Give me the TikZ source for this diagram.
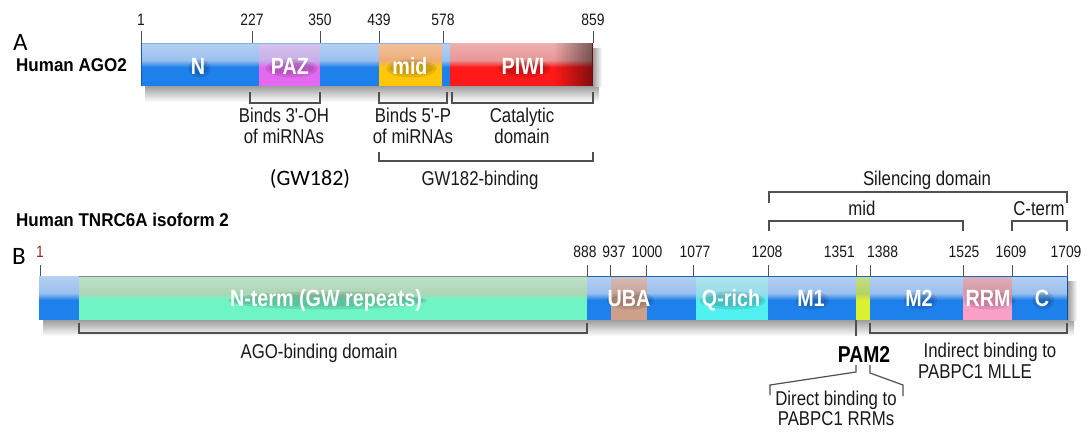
\documentclass[tikz,border=0pt]{standalone}
\usepackage{fontspec}
\setmainfont{Liberation Sans}
\newfontfamily\nar{Liberation Sans}[FakeStretch=0.84]
\newfontfamily\ttl{Liberation Sans}[FakeStretch=0.92]
\newfontfamily\calfont{Carlito}
\definecolor{bluB}{RGB}{30,128,235}
\definecolor{bluT}{RGB}{155,192,238}
\definecolor{grnB}{RGB}{110,245,195}
\definecolor{grnT}{RGB}{172,214,182}
\definecolor{pazB}{RGB}{228,105,240}
\definecolor{pazT}{RGB}{200,175,232}
\definecolor{midB}{RGB}{255,198,10}
\definecolor{midT}{RGB}{238,172,120}
\definecolor{piwB}{RGB}{255,25,25}
\definecolor{piwT}{RGB}{232,150,150}
\definecolor{ubaB}{RGB}{205,160,140}
\definecolor{ubaT}{RGB}{200,165,155}
\definecolor{qriB}{RGB}{80,240,240}
\definecolor{qriT}{RGB}{150,220,232}
\definecolor{pamB}{RGB}{220,240,50}
\definecolor{pamT}{RGB}{180,210,100}
\definecolor{rrmB}{RGB}{250,160,200}
\definecolor{rrmT}{RGB}{212,150,162}
\definecolor{lin}{RGB}{80,80,80}
\definecolor{txt}{RGB}{25,25,25}
\definecolor{one}{RGB}{140,50,30}
\tikzset{
  brk/.style={draw=lin,line width=1.2pt},
  num/.style={anchor=base,inner sep=0pt,text=txt,font=\nar\fontsize{16.5}{18}\selectfont},
  lab/.style={anchor=base,inner sep=0pt,text=txt,font=\nar\fontsize{20}{22}\selectfont},
  ttlab/.style={anchor=base west,inner sep=0pt,text=black,font=\ttl\bfseries\fontsize{18.5}{20}\selectfont},
  letter/.style={anchor=base west,inner sep=0pt,text depth=0pt,text=black,font=\calfont\fontsize{25}{27}\selectfont},
  barlab/.style={anchor=base,inner sep=0pt,text=white,font=\nar\bfseries\fontsize{23.5}{25}\selectfont},
  tick/.style={draw=lin,line width=1pt}
}
% segment: x0 x1 y0 y1 bottomcolor topcolor
\newcommand\seg[6]{%
  \fill[#5] (#1,#3) rectangle (#2,#4);
  \shade[top color=#6!75!white, bottom color=#6] (#1,#3) rectangle (#2,#3+17);
  \shade[top color=#6, bottom color=#5] (#1,#3+17) rectangle (#2,#3+24);
}
% soft dark halo under a bar label (no duplicate text)
\newcommand\blab[5]{%
  \fill[black,opacity=0.10] (#2+1.5,#3+2) ellipse ({#5/2+4} and 9);
  \fill[black,opacity=0.10] (#2+1.5,#3+2) ellipse ({#5/2+1} and 6);
  \node[barlab] (#1) at (#2,#3+7.5) {#4};
}
\newcommand\shad[4]{%
  \shade[top color=black!38, bottom color=white] (#1+4,#4) rectangle (#2+6,#4+16);
  \shade[left color=black!38, right color=white] (#2,#3+5) rectangle (#2+9,#4);
}
\begin{document}
\begin{tikzpicture}[x=1pt,y=-1pt]
\useasboundingbox (0,0) rectangle (1091,432);
\fill[white] (0,0) rectangle (1091,432);

% ================= A : AGO2 =================
\node[letter] (A) at (13,50) {A};
\node[ttlab] (tA) at (16,71.5) {Human AGO2};

\shad{141}{593}{43}{86}
\seg{141}{259}{43}{86}{bluB}{bluT}
\seg{259}{320}{43}{86}{pazB}{pazT}
\seg{320}{379}{43}{86}{bluB}{bluT}
\seg{379}{442}{43}{86}{midB}{midT}
\seg{442}{450}{43}{86}{bluB}{bluT}
\seg{450}{593}{43}{86}{piwB}{piwT}
\foreach \i in {0,...,19}{
  \fill[black,opacity=0.025*\i] ({553+2*\i},43) rectangle ({555+2*\i},86);
}
\draw[bluT!80!bluB,line width=0.8pt] (141,43.4) -- (450,43.4);
\draw[bluB!70!black,line width=1pt] (141.5,43) -- (141.5,86);
\draw[piwB!45!black,line width=1pt] (592.5,43) -- (592.5,86);

\blab{lN}{198}{66.5}{N}{14}
\blab{lPAZ}{290}{66.5}{PAZ}{44}
\blab{lmid}{410}{66.5}{mid}{42}
\blab{lPIWI}{523}{66.5}{PIWI}{44}

\foreach \x/\t [count=\i] in {141/1,252/227,320/350,379/439,443/578,593/859}{
  \coordinate (ta\i) at (\x,31);
  \draw[tick] (ta\i) -- (\x,43);
  \node[num] (na\i) at (\x,25) {\t};
}

\draw[brk] (250,92) -- (250,103) -- (320,103) -- (320,92);
\draw[brk] (379,92) -- (379,103) -- (447,103) -- (447,92);
\draw[brk] (452,92) -- (452,103) -- (593,103) -- (593,92);
\node[lab] (b1a) at (284,122) {Binds 3'-OH};
\node[lab] (b1b) at (284,143) {of miRNAs};
\node[lab] (b2a) at (413,122) {Binds 5'-P};
\node[lab] (b2b) at (413,143) {of miRNAs};
\node[lab] (b3a) at (522,122) {Catalytic};
\node[lab] (b3b) at (522,143) {domain};
\draw[brk] (379,152) -- (379,161) -- (593,161) -- (593,152);
\node[lab] (gwb) at (480,185) {GW182-binding};
\node[anchor=base,inner sep=0pt,font=\calfont\fontsize{22}{24}\selectfont] (gw) at (310,185) {(GW182)};

% ================= B : TNRC6A =================
\node[ttlab] (tB) at (16,226) {Human TNRC6A isoform 2};
\node[letter] (B) at (12,264) {B};

\shad{39}{1068}{276}{320}
\seg{39}{79}{276}{320}{bluB}{bluT}
\seg{79}{587}{276}{320}{grnB}{grnT}
\seg{587}{611}{276}{320}{bluB}{bluT}
\seg{611}{647}{276}{320}{ubaB}{ubaT}
\seg{647}{696}{276}{320}{bluB}{bluT}
\seg{696}{768}{276}{320}{qriB}{qriT}
\seg{768}{856}{276}{320}{bluB}{bluT}
\seg{856}{870}{276}{320}{pamB}{pamT}
\seg{870}{963}{276}{320}{bluB}{bluT}
\seg{963}{1012}{276}{320}{rrmB}{rrmT}
\seg{1012}{1068}{276}{320}{bluB}{bluT}
\draw[bluB!60!black,line width=1.2pt] (1067.5,276) -- (1067.5,320);
\draw[grnT!70!black,line width=0.6pt] (79,276.3) -- (587,276.3);
\draw[bluB!80!black,line width=0.6pt] (587,276.3) -- (1068,276.3);

\blab{lNt}{326}{298.5}{N-term (GW repeats)}{190}
\blab{lUBA}{629}{298.5}{UBA}{40}
\blab{lQ}{731}{298.5}{Q-rich}{58}
\blab{lM1}{811}{298.5}{M1}{26}
\blab{lM2}{919}{298.5}{M2}{26}
\blab{lRRM}{988}{298.5}{RRM}{44}
\blab{lC}{1042}{298.5}{C}{14}

\coordinate (tb0) at (40,265);
\draw[tick] (tb0) -- (40,276);
\node[num,text=one] (nb0) at (40,257) {1};
\foreach \x/\t/\c [count=\i] in {587/888/585,610/937/614,646/1000/647,693/1077/695,768/1208/767,963/1525/964,1012/1609/1011,1067/1709/1066}{
  \coordinate (tb\i) at (\x,265);
  \draw[tick] (tb\i) -- (\x,276);
  \node[num] (nb\i) at (\c,257) {\t};
}
\draw[tick] (856,265) -- (856,276);
\draw[tick] (870,265) -- (870,276);
\node[num,anchor=base east] (n1351) at (855,257) {1351};
\node[num,anchor=base west] (n1388) at (867,257) {1388};

% brackets above
\draw[brk] (769,203) -- (769,192) -- (1067,192) -- (1067,203);
\node[lab] (sil) at (927,185) {Silencing domain};
\draw[brk] (769,231) -- (769,221) -- (963,221) -- (963,231);
\node[lab] (midB) at (862,215) {mid};
\draw[brk] (1012,231) -- (1012,221) -- (1067,221) -- (1067,231);
\node[lab] (ct) at (1039,215) {C-term};

% brackets below
\draw[brk] (79,323) -- (79,333) -- (587,333) -- (587,323);
\node[lab] (agob) at (319,358) {AGO-binding domain};
\draw[brk] (870,323) -- (870,333) -- (1067,333) -- (1067,323);
\node[lab] (ind1) at (990,357) {Indirect binding to};
\node[lab] (ind2) at (975,378) {PABPC1 MLLE};

\draw[brk] (856,320) -- (856,336);
\node[anchor=base,inner sep=0pt,font=\nar\bfseries\fontsize{23}{25}\selectfont] (pam) at (864,362) {PAM2};
\draw[brk] (856,365) -- (856,372) -- (770,385) -- (770,395);
\draw[brk] (870,365) -- (870,373) -- (903,385) -- (903,396);
\node[lab] (dir1) at (836,405) {Direct binding to};
\node[lab] (dir2) at (836,425) {PABPC1 RRMs};
\end{tikzpicture}
\end{document}
